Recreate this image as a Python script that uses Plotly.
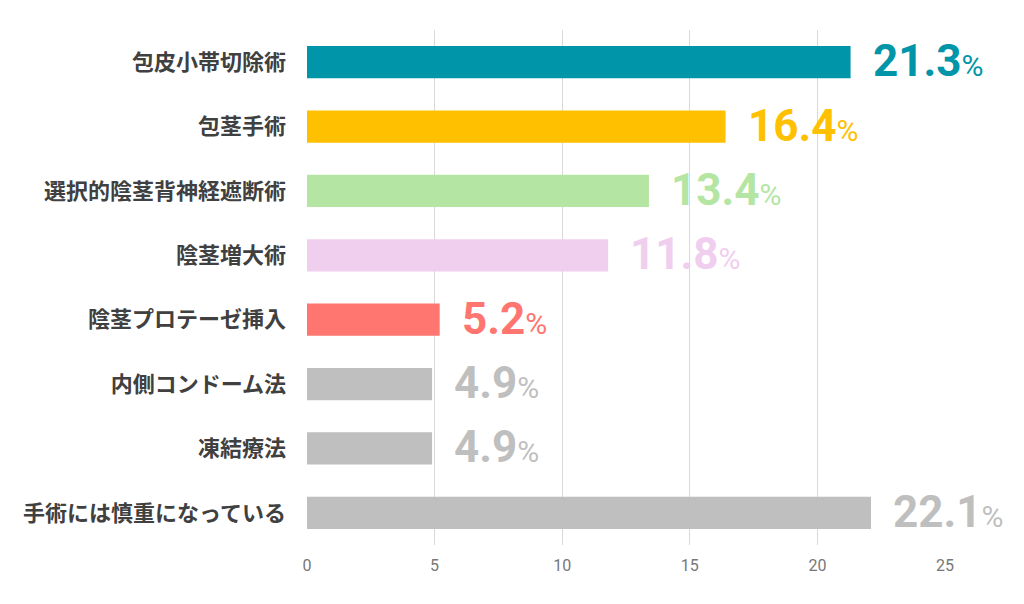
import plotly.graph_objs as go

categories = ["包皮小帯切除術", "包茎手術", "選択的陰茎背神経遮断術", "陰茎増大術",
              "陰茎プロテーゼ挿入", "内側コンドーム法", "凍結療法", "手術には慎重になっている"]
percent = [21.3, 16.4, 13.4, 11.8, 5.2, 4.9, 4.9, 22.1]
bar_colours = ["#0095A8", "#FFC000", "#B4E5A2", "#F0CEEE", "#FF7671", "#BFBFBF", "#BFBFBF", "#BFBFBF"]
x_ticks = [0, 5, 10, 15, 20, 25]

# page body has an 8px default margin, so the figure is a bit smaller
fig = go.Figure(layout={
    "width": 1016,
    "height": 596,
    "margin": {"l": 299, "r": 79, "t": 22, "b": 59, "autoexpand": False},
    "plot_bgcolor": "white",
    "paper_bgcolor": "white",
    "showlegend": False,
    "bargap": 0.5,
})

fig.add_trace(
    go.Bar(x=percent,
           y=categories,
           orientation="h",
           marker={"color": bar_colours, "line": {"width": 0}},
           hoverinfo="x+y")
)

# value labels: big bold number, smaller %
for cat, val, col in zip(categories, percent, bar_colours):
    fig.add_annotation(
        x=val, y=cat,
        xref="x", yref="y",
        xanchor="left", yanchor="middle",
        xshift=20, yshift=1,
        showarrow=False,
        text=f"<b>{val:.1f}</b><span style='font-size:30px'>%</span>",
        font={"family": "Roboto", "size": 44, "color": col},
    )

fig.update_xaxes(range=[0, 25],
                 tickvals=x_ticks,
                 showgrid=True,
                 gridcolor="#D9D9D9",
                 gridwidth=1,
                 zeroline=False,
                 showline=False,
                 ticks="",
                 ticklabelstandoff=9,
                 tickfont={"family": "Roboto", "size": 16, "color": "#777777"})

fig.update_yaxes(autorange="reversed",
                 showgrid=False,
                 zeroline=False,
                 showline=False,
                 ticks="",
                 ticklabelstandoff=20,
                 tickfont={"family": "Noto Sans CJK JP", "size": 22, "color": "#404040", "weight": "bold"})

fig.write_html("out.html")
